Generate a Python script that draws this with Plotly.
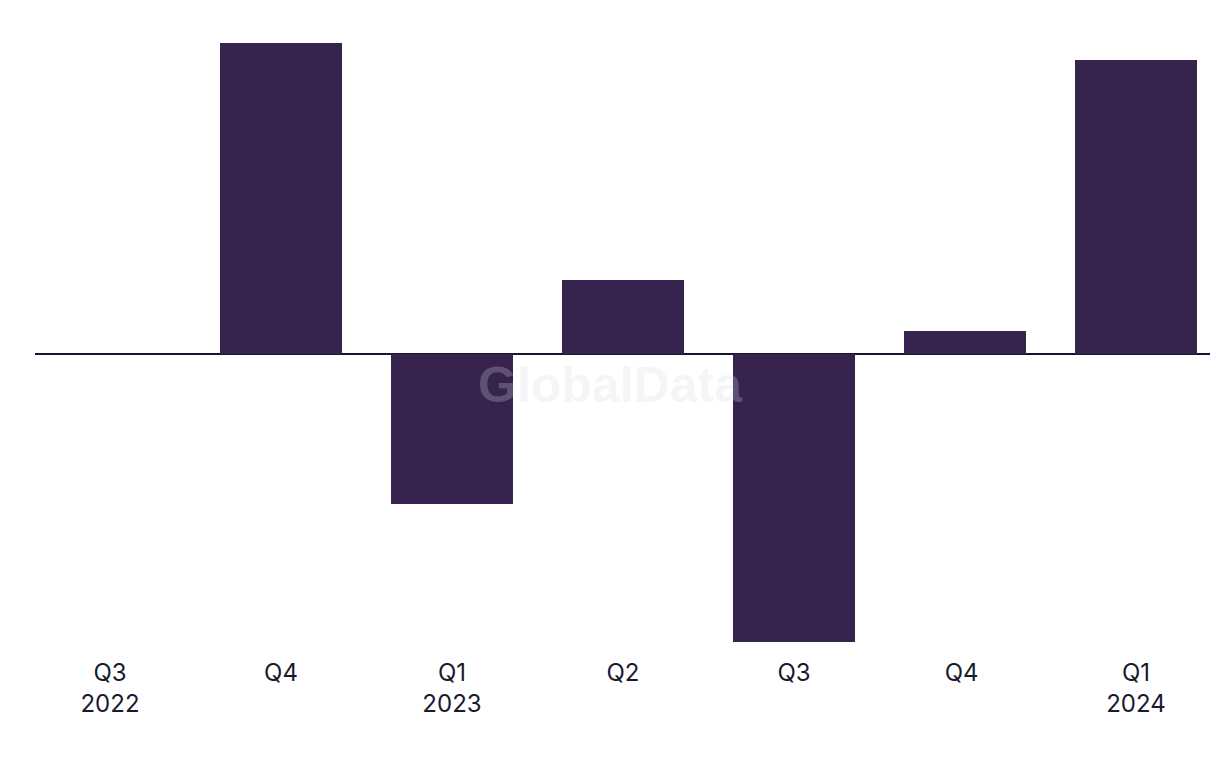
import plotly.graph_objects as go

categories = ["Q3<br>2022", "Q4", "Q1<br>2023", "Q2", "Q3", "Q4 ", "Q1<br>2024"]
values = [0.0, 31.1, -15.0, 7.4, -28.8, 2.3, 29.4]

x_pos = list(range(len(categories)))

fig = go.Figure()
fig.add_trace(go.Bar(
    x=x_pos, y=values, width=0.715,
    marker=dict(color="#36244f", line=dict(width=0)),
    hoverinfo="skip",
))

fig.add_annotation(
    text="<b>GlobalData</b>", xref="paper", yref="paper",
    x=(610 - 35) / (1220 - 35 - 10), y=(768 - 123 - 385) / (768 - 123 - 20),
    showarrow=False,
    font=dict(family="Liberation Sans, Arial", size=50, color="rgba(215,215,225,0.25)"),
)

fig.update_layout(
    width=1220, height=768,
    margin=dict(l=35, r=10, t=20, b=123),
    paper_bgcolor="white", plot_bgcolor="white",
    showlegend=False,
    bargap=0,
    xaxis=dict(
        tickmode="array", tickvals=x_pos, ticktext=categories,
        range=[-0.4386, 6.433],
        showgrid=False, zeroline=False, showline=False, ticks="",
        ticklabelstandoff=11,
        tickfont=dict(family="Inter, Liberation Sans", size=24, color="#1a1a2e"),
    ),
    yaxis=dict(
        range=[-29.1, 33.4], showgrid=False, showticklabels=False, ticks="",
        zeroline=True, zerolinecolor="#161631", zerolinewidth=2, showline=False,
    ),
)

fig.write_html("out.html")
